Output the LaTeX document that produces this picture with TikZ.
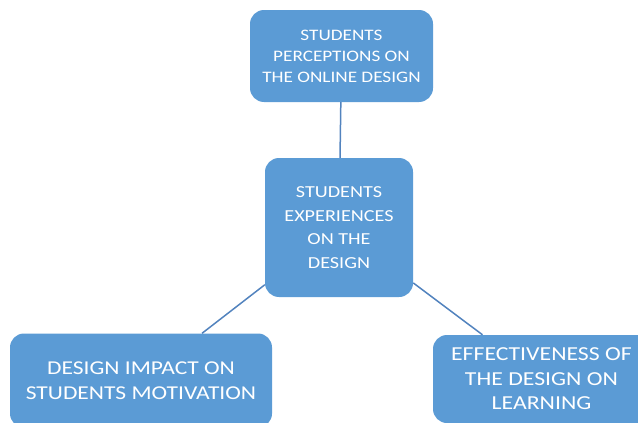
\documentclass[tikz,border=0pt]{standalone}
\usepackage{fontspec}
\setmainfont{Carlito}[FakeStretch=1.2]
\definecolor{boxblue}{HTML}{5B9BD5}
\definecolor{lineblue}{HTML}{5283BE}

\begin{document}
\begin{tikzpicture}[x=1pt,y=-1pt,
  box/.style={rectangle,rounded corners=14pt,fill=boxblue,text=white,align=center,inner sep=0pt},
  link/.style={draw=lineblue,line width=1.5pt}]
\clip (0,0) rectangle (638,423);
\node[box,minimum width=183pt,minimum height=92pt,font=\fontsize{16}{21}\selectfont] at (341.5,56) (P) {STUDENTS\\PERCEPTIONS ON\\THE ONLINE DESIGN};
\node[box,minimum width=148pt,minimum height=139pt,font=\fontsize{16.8}{23.5}\selectfont] at (339,227.5) (E) {STUDENTS\\EXPERIENCES\\ON THE\\DESIGN};
\node[box,minimum width=262pt,minimum height=94pt,font=\fontsize{19.6}{25}\selectfont] at (141,380.5) (M) {DESIGN IMPACT ON\\STUDENTS MOTIVATION};
\node[box,minimum width=217pt,minimum height=88pt,font=\fontsize{19.8}{24.5}\selectfont] at (541.5,379) (L) {EFFECTIVENESS OF\\THE DESIGN ON\\LEARNING};
\draw[link] (P) -- (E);
\draw[link] (E) -- (M);
\draw[link] (E) -- (L);
\end{tikzpicture}
\end{document}
